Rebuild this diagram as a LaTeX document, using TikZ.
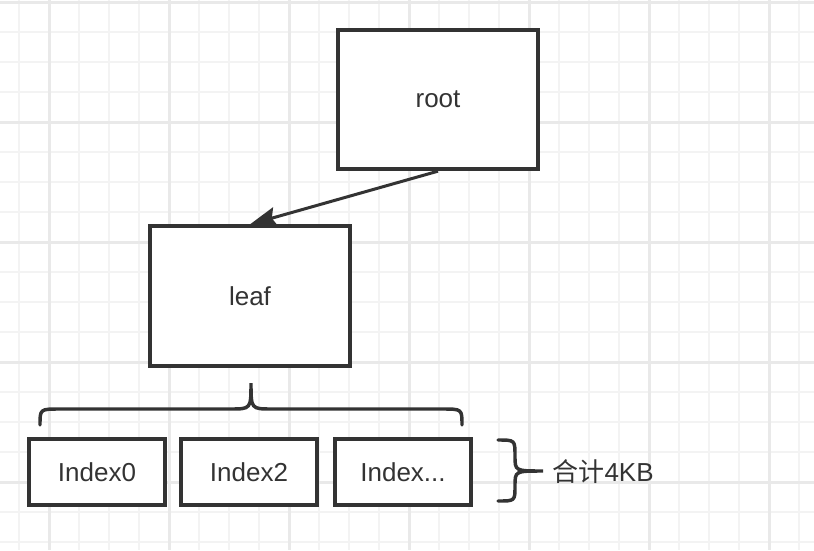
\documentclass[tikz,border=0pt]{standalone}
\usepackage{fontspec}
\setmainfont{Liberation Sans}
\newfontfamily\cjk{Noto Sans CJK SC}
\usetikzlibrary{arrows.meta}

\definecolor{ink}{HTML}{333333}
\definecolor{gridminor}{HTML}{F3F3F3}
\definecolor{gridmajor}{HTML}{E9E9E9}

\tikzset{every picture/.style={line width=0.75pt}}
\tikzset{
  box/.style={draw=ink, line width=3pt, fill=white, text=ink, inner sep=0pt,
    font=\fontsize{19.5}{23}\selectfont},
  bigbox/.style={box, minimum width=150pt, minimum height=104.5pt},
  idxbox/.style={box, minimum width=102pt, minimum height=49.5pt},
  brace/.style={draw=ink, line width=2.6pt, line cap=round},
  sumlabel/.style={text=ink, inner sep=0.75pt, font=\fontsize{19.5}{23}\selectfont},
  link/.style={draw=ink, line width=2.25pt, -{Stealth[length=20pt,width=15pt,inset=3pt]}},
  minorline/.style={draw=gridminor, line width=1.5pt},
  majorline/.style={draw=gridmajor, line width=2.25pt}
}

\begin{document}
\begin{tikzpicture}[x=0.75pt,y=0.75pt,yscale=-1,xscale=1]
    \useasboundingbox (0,0) rectangle (814,550);
    \fill[white] (0,0) rectangle (814,550);

    %Grid
    \foreach \x in {19,49,...,799} \draw[minorline] (\x,0) -- (\x,550);
    \foreach \y in {2,32,...,542} \draw[minorline] (0,\y) -- (814,\y);
    \foreach \x in {49,169,...,769} \draw[majorline] (\x,0) -- (\x,550);
    \foreach \y in {2,122,...,482} \draw[majorline] (0,\y) -- (814,\y);

    %Shape: Rectangle [root]
    \node[bigbox] (root) at (438,99.5) {root};
    %Shape: Rectangle [leaf]
    \node[bigbox] (leaf) at (250,296) {leaf};

    %Shape: Rectangle [index boxes]
    \node[idxbox] (idx0) at (97,472) {Index0};
    \node[idxbox] (idx2) at (249,472) {Index2};
    \node[idxbox] (idxn) at (403,472) {Index...};

    %Straight Lines [root to leaf]
    \draw[link] (root.south) -- (leaf.north);

    %Shape: Brace [over index boxes]
    \draw[brace] (40,425) .. controls (40,409) and (40,409) .. (60,409) -- (230,409)
        .. controls (251,409) and (251,409) .. (251,383)
        .. controls (251,409) and (251,409) .. (272,409) -- (442,409)
        .. controls (462,409) and (462,409) .. (462,425);
    %Shape: Brace [right of index boxes]
    \draw[brace] (498,440) .. controls (515,440) and (515,440) .. (515,456)
        .. controls (515,471) and (515,471) .. (543,471)
        .. controls (515,471) and (515,471) .. (515,486)
        .. controls (515,501) and (515,501) .. (498,501);

    % Text Node
    \node[sumlabel, anchor=west] (total) at (551,472) {{\cjk 合计}4KB};

\end{tikzpicture}
\end{document}
